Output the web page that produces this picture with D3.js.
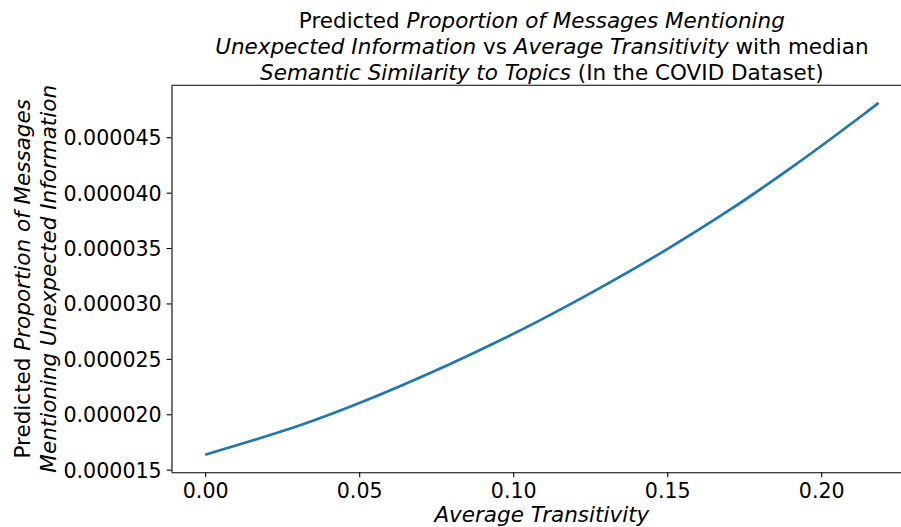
<!DOCTYPE html>
<html>
<head>
<meta charset="utf-8">
<script src="https://cdn.jsdelivr.net/npm/d3@7"></script>
<style>
  html, body { margin: 0; padding: 0; background: #fff; }
  svg { display: block; font-family: "DejaVu Sans", sans-serif; }
</style>
</head>
<body>
<svg id="chart" width="901" height="527"></svg>
<script>
// Average transitivity (x) and predicted proportion (y) along the fitted curve
const transitivity = [0, 0.0308, 0.0525, 0.0741, 0.0958, 0.1088, 0.1272, 0.1488, 0.1705, 0.1921, 0.2137, 0.2186];
const predicted = [1.635e-5, 1.900e-5, 2.128e-5, 2.385e-5, 2.668e-5, 2.850e-5, 3.125e-5, 3.470e-5, 3.848e-5, 4.262e-5, 4.705e-5, 4.810e-5];
const xTicks = [0, 0.05, 0.10, 0.15, 0.20];
const yTicks = [1.5e-5, 2.0e-5, 2.5e-5, 3.0e-5, 3.5e-5, 4.0e-5, 4.5e-5];

const svg = d3.select("#chart");
const plot = { left: 171.5, top: 85.3, right: 912.2, bottom: 472.3 };
const fsTick = 20.6;       // tick label font size in px
const fsLabel = 21.5;      // title / axis label font size in px
const tickLen = 4.9, tickPad = 4.9;

// 5% data margins on both axes
const xExt = d3.extent(transitivity), yExt = d3.extent(predicted);
const xm = (xExt[1] - xExt[0]) * 0.05, ym = (yExt[1] - yExt[0]) * 0.05;
const x = d3.scaleLinear().domain([xExt[0] - xm, xExt[1] + xm]).range([plot.left, plot.right]);
const y = d3.scaleLinear().domain([yExt[0] - ym, yExt[1] + ym]).range([plot.bottom, plot.top]);

// curve
const pts = transitivity.map((t, i) => [t, predicted[i]]);
svg.append("path")
  .datum(pts)
  .attr("fill", "none")
  .attr("stroke", "#1f77b4")
  .attr("stroke-width", 2.7)
  .attr("d", d3.line().x(d => x(d[0])).y(d => y(d[1])).curve(d3.curveCatmullRom.alpha(0.5)));

// x axis
const xAxis = svg.append("g")
  .attr("transform", `translate(0,${plot.bottom})`)
  .call(d3.axisBottom(x).tickValues(xTicks).tickFormat(d3.format(".2f")).tickSize(tickLen).tickSizeOuter(0).tickPadding(tickPad));
xAxis.selectAll("text").attr("font-size", fsTick).attr("fill", "#000").attr("font-family", "DejaVu Sans").attr("dy", null).attr("y", 26);

// y axis
const yAxis = svg.append("g")
  .attr("transform", `translate(${plot.left},0)`)
  .call(d3.axisLeft(y).tickValues(yTicks).tickFormat(d3.format(".6f")).tickSize(tickLen).tickSizeOuter(0).tickPadding(tickPad));
yAxis.selectAll("text").attr("font-size", fsTick).attr("fill", "#000").attr("font-family", "DejaVu Sans").attr("dy", "0.36em");

svg.selectAll(".domain").attr("stroke", "#000").attr("stroke-width", 1.1);
svg.selectAll(".tick line").attr("stroke", "#000").attr("stroke-width", 1.1);

// top spine
svg.append("line")
  .attr("x1", plot.left).attr("x2", plot.right)
  .attr("y1", plot.top).attr("y2", plot.top)
  .attr("stroke", "#000").attr("stroke-width", 1.1);

// helper for mixed normal/italic lines
function richLine(sel, parts) {
  parts.forEach(([txt, it]) => {
    sel.append("tspan").attr("font-style", it ? "italic" : "normal").text(txt);
  });
}

const cx = (plot.left + plot.right) / 2;
const titleLines = [
  [["Predicted ", false], ["Proportion of Messages Mentioning", true]],
  [["Unexpected Information", true], [" vs ", false], ["Average Transitivity", true], [" with median", false]],
  [["Semantic Similarity to Topics", true], [" (In the COVID Dataset)", false]]
];
titleLines.forEach((parts, i) => {
  const t = svg.append("text")
    .attr("x", cx).attr("y", 27.5 + i * 26)
    .attr("text-anchor", "middle")
    .attr("font-size", fsLabel)
    .attr("fill", "#000");
  richLine(t, parts);
});

// x label
svg.append("text")
  .attr("x", cx).attr("y", 522)
  .attr("text-anchor", "middle")
  .attr("font-size", fsLabel)
  .attr("font-style", "italic")
  .attr("fill", "#000")
  .text("Average Transitivity");

// y label (two lines, rotated)
const cy = (plot.top + plot.bottom) / 2;
const yLabLines = [
  [["Predicted ", false], ["Proportion of Messages", true]],
  [["Mentioning Unexpected Information", true]]
];
yLabLines.forEach((parts, i) => {
  const bx = 30 + i * 26;
  const t = svg.append("text")
    .attr("transform", `translate(${bx},${cy}) rotate(-90)`)
    .attr("text-anchor", "middle")
    .attr("font-size", fsLabel)
    .attr("fill", "#000");
  richLine(t, parts);
});
</script>
</body>
</html>
